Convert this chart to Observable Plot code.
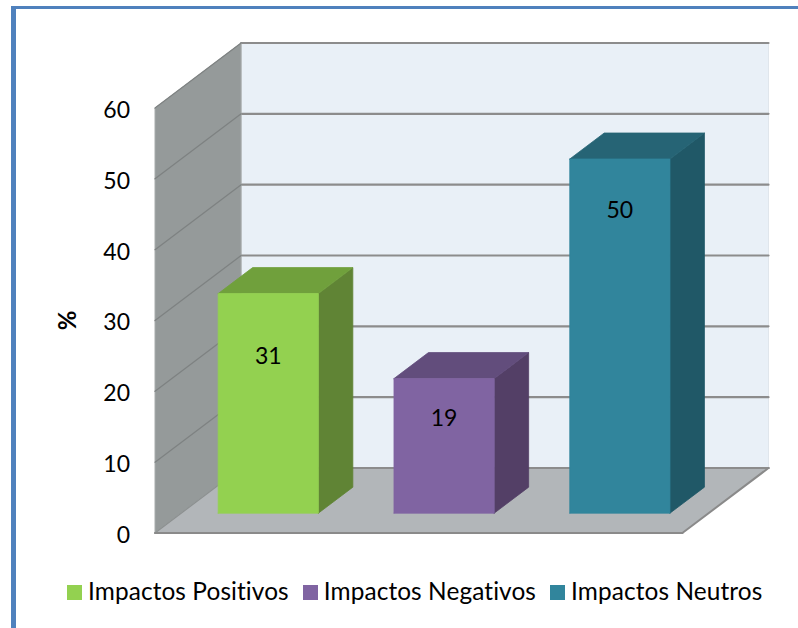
<!DOCTYPE html>
<html>
<head>
<meta charset="utf-8">
<script src="https://cdn.jsdelivr.net/npm/d3@7"></script>
<script src="https://cdn.jsdelivr.net/npm/@observablehq/plot@0.6"></script>
<style>
  html, body { margin: 0; padding: 0; background: #fff; overflow: hidden; }
  #frame {
    position: absolute; left: 11px; top: 6px; width: 787px; height: 622px;
    border-left: 5px solid #4f81bd; border-top: 3px solid #4f81bd;
    box-sizing: border-box;
  }
  #chart { position: absolute; left: 0; top: 0; }
  #chart svg { display: block; }
  #legend {
    position: absolute; left: 67px; top: 578px; display: flex; align-items: center;
    font: 24.4px Lato, sans-serif; font-variant-ligatures: none; letter-spacing: 0.1px;
    color: #000; white-space: nowrap; height: 28px;
  }
  #legend i { display: block; width: 15px; height: 15px; margin-right: 6px; }
  #legend span { margin-right: 14px; position: relative; top: -1.5px; }
</style>
</head>
<body>
<div id="frame"></div>
<div id="chart"></div>
<div id="legend"></div>
<script>
// Share of impacts by type, drawn as an oblique 3D column chart
const categories = ["Impactos Positivos", "Impactos Negativos", "Impactos Neutros"];
const values = [31, 19, 50];
const labelHeights = [22.1, 13.4, 42.7];
const yTicks = [0, 10, 20, 30, 40, 50, 60];
const frontColors = ["#93d150", "#8064a2", "#31859c"];
const sideColors = ["#608435", "#533f66", "#205867"];
const topColors = ["#70a03c", "#624d7c", "#266475"];

// Oblique projection: one unit of depth shifts a point along both data axes
const depthX = 0.49;
const depthY = 9.18;
const yMax = 60;
const slots = categories.length;
const barWidth = 0.57;
const barOffset = 0.21;
const barDepth = [0.305, 0.705];
const at = (u, v, d) => ({ x: u + d * depthX, y: v + d * depthY });

let faceId = 0;
const polygon = (corners, options) => {
  const id = faceId++;
  return Plot.line(
    [...corners, corners[0]].map(([u, v, d]) => ({ ...at(u, v, d), id })),
    { x: "x", y: "y", z: "id", strokeLinejoin: "miter", ...options }
  );
};
const segment = (a, b, stroke, strokeWidth) =>
  Plot.line([at(...a), at(...b)], { x: "x", y: "y", stroke, strokeWidth });

const walls = [
  polygon([[0, 0, 1], [slots, 0, 1], [slots, yMax, 1], [0, yMax, 1]], { fill: "#e9f0f7", stroke: "#e0e6ec", strokeWidth: 1 }),
  ...yTicks.map(v => segment([0, v, 1], [slots, v, 1], "#8c8c8c", 2.2)),
  polygon([[0, 0, 0], [0, yMax, 0], [0, yMax, 1], [0, 0, 1]], { fill: "#959a9a", stroke: "#a8acac", strokeWidth: 1 }),
  ...yTicks.slice(1).map(v => segment([0, v, 0], [0, v, 1], "#7e8282", 1.3)),
  polygon([[0, 0, 0], [slots, 0, 0], [slots, 0, 1], [0, 0, 1]], { fill: "#b2b6b9" }),
  segment([0, 0, 1], [slots, 0, 1], "#8c8c8c", 2.2),
  segment([0, 0, 0], [0, 0, 1], "#8c9090", 1.2),
  segment([0, 0, 0], [slots, 0, 0], "#8a8a8a", 2.2),
  segment([slots, 0, 0], [slots, 0, 1], "#8a8a8a", 2)
];

const bars = values.flatMap((v, i) => {
  const l = i + barOffset, r = l + barWidth;
  const [d0, d1] = barDepth;
  return [
    polygon([[r, 0, d0], [r, 0, d1], [r, v, d1], [r, v, d0]], { fill: sideColors[i], stroke: sideColors[i], strokeWidth: 0.8 }),
    polygon([[l, v, d0], [r, v, d0], [r, v, d1], [l, v, d1]], { fill: topColors[i], stroke: topColors[i], strokeWidth: 0.8 }),
    polygon([[l, 0, d0], [r, 0, d0], [r, v, d0], [l, v, d0]], { fill: frontColors[i], stroke: frontColors[i], strokeWidth: 0.8 })
  ];
});

const labels = values.map((v, i) => ({
  ...at(i + barOffset + barWidth / 2, labelHeights[i], barDepth[0]),
  text: String(v)
}));

const chart = Plot.plot({
  width: 798,
  height: 560,
  marginLeft: 154.5,
  marginRight: 30,
  marginTop: 42.5,
  marginBottom: 27.5,
  style: { background: "transparent", fontFamily: "Lato, sans-serif", color: "#000" },
  x: { domain: [0, slots + depthX], axis: null },
  y: { domain: [0, yMax + depthY], ticks: yTicks, label: null },
  marks: [
    ...walls,
    ...bars,
    Plot.axisY(yTicks, { tickSize: 0, tickPadding: 25, fontSize: 23, dy: 2.5, label: null, color: "#000", fill: "#000" }),
    Plot.text(labels, { x: "x", y: "y", text: "text", fontSize: 23, fill: "#000" }),
    Plot.text(["%"], { frameAnchor: "left", textAnchor: "middle", y: () => 30, dx: -87, rotate: -90, fontSize: 24, fontWeight: "bold", fill: "#000" })
  ]
});
document.getElementById("chart").append(chart);

// Legend below the plot
const legend = document.getElementById("legend");
categories.forEach((name, i) => {
  const swatch = document.createElement("i");
  swatch.style.background = frontColors[i];
  const label = document.createElement("span");
  label.textContent = name;
  legend.append(swatch, label);
});
</script>
</body>
</html>
